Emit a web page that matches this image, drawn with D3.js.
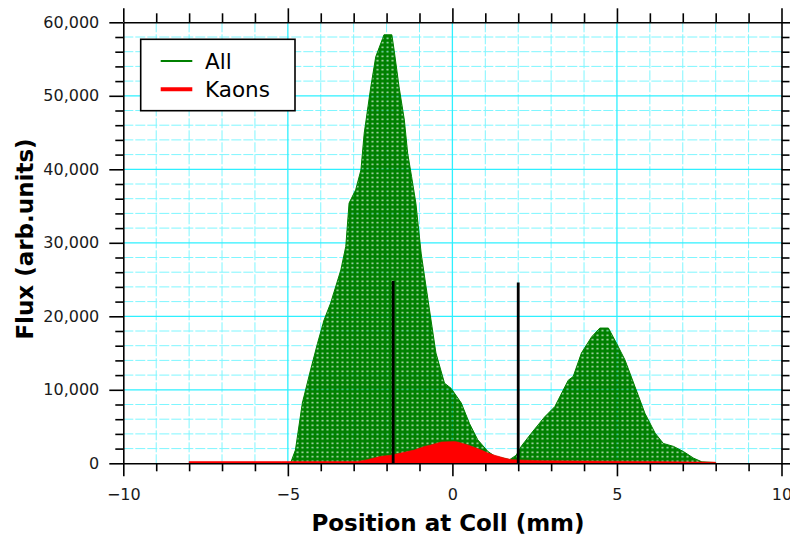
<!DOCTYPE html>
<html>
<head>
<meta charset="utf-8">
<script src="https://cdn.jsdelivr.net/npm/d3@7/dist/d3.min.js"></script>
<style>
  html, body { margin: 0; padding: 0; background: #fff; }
  svg { display: block; }
  text { font-family: "DejaVu Sans", sans-serif; }
</style>
</head>
<body>
<svg id="chart" width="790" height="538"></svg>
<script>
// Beam profile at the collimator: all particles vs kaons
const allPos = [-4.92, -4.77, -4.56, -4.31, -4.10, -3.90, -3.70, -3.39, -3.24, -3.14, -2.94, -2.78,
  -2.68, -2.48, -2.33, -2.12, -2.08, -1.84, -1.77, -1.62, -1.46, -1.36, -1.24, -1.11, -0.95, -0.80,
  -0.65, -0.50, -0.24, -0.04, 0.27, 0.52, 0.77, 1.08, 1.28, 1.74, 1.94, 2.09, 2.40, 2.80, 3.11,
  3.52, 3.67, 3.92, 4.23, 4.48, 4.74, 4.99, 5.24, 5.55, 5.85, 6.16, 6.41, 6.72, 7.02, 7.33, 7.58, 7.99];
const allFlux = [0, 1800, 8200, 12700, 16300, 19500, 21800, 26300, 29500, 35400, 37200, 39900,
  44900, 51200, 55300, 57800, 58300, 58300, 56200, 51200, 46700, 42200, 39000, 35400, 28600, 24000,
  19500, 15000, 10900, 10200, 8200, 5400, 3200, 1600, 1000, 500, 1100, 2300, 4100, 6300, 7700,
  11300, 11800, 15000, 17200, 18400, 18400, 16300, 14100, 10400, 6800, 4100, 2700, 2300, 1600, 700, 200, 100];

const kaonPos = [-8.0, -5.2, -2.88, -2.58, -2.17, -1.87, -1.36, -1.16, -0.85, -0.65, -0.34, 0.06,
  0.16, 0.47, 0.88, 1.08, 1.28, 1.59, 1.79, 2.0, 2.70, 4.0, 6.0, 8.0];
const kaonFlux = [250, 250, 250, 500, 950, 1100, 1600, 1800, 2300, 2500, 2900, 2950,
  2900, 2500, 1800, 1400, 1100, 700, 500, 450, 350, 300, 250, 150];

// Collimator edges
const edgePos = [-1.8, 2.0];
const edgeHeight = [24800, 24600];

const xDomain = [-10, 10];
const yDomain = [0, 60000];
const xMajor = [-10, -5, 0, 5, 10];
const yMajor = [0, 10000, 20000, 30000, 40000, 50000, 60000];

const legendNames = ["All", "Kaons"];
const legendColors = ["#008000", "#ff0000"];

const svg = d3.select("#chart");
const W = 790, H = 538;
const pLeft = 123.3, pRight = 781.5, pTop = 22.3, pBottom = 463.3;

svg.append("rect").attr("width", W).attr("height", H).attr("fill", "#fff");

const x = d3.scaleLinear().domain(xDomain).range([pLeft, pRight]);
const y = d3.scaleLinear().domain(yDomain).range([pBottom, pTop]);

const xMinor = d3.range(-10, 10.001, 1).filter(v => !xMajor.includes(v));
const yMinor = d3.range(0, 60001, 2000).filter(v => !yMajor.includes(v));

// Dotted fill for the "All" area
const defs = svg.append("defs");
const pat = defs.append("pattern").attr("id", "dots")
  .attr("patternUnits", "userSpaceOnUse").attr("width", 5).attr("height", 4.5);
pat.append("path").attr("d", "M0,0h5v4.5h-5z M1.5,1.5h2v1.5h-2z")
  .attr("fill", "#008000").attr("fill-rule", "evenodd");
pat.append("rect").attr("x", 1.5).attr("y", 1.5).attr("width", 2).attr("height", 1.5)
  .attr("fill", "#008000").attr("opacity", 0.25);

// Grid
const grid = svg.append("g");
grid.selectAll(".gxm").data(xMinor).join("line")
  .attr("x1", d => x(d)).attr("x2", d => x(d)).attr("y1", pTop).attr("y2", pBottom)
  .attr("stroke", "#7ff6ff").attr("stroke-width", 1).attr("stroke-dasharray", "10,2");
grid.selectAll(".gym").data(yMinor).join("line")
  .attr("x1", pLeft).attr("x2", pRight).attr("y1", d => y(d)).attr("y2", d => y(d))
  .attr("stroke", "#7ff6ff").attr("stroke-width", 1).attr("stroke-dasharray", "10,2");
grid.selectAll(".gxM").data(xMajor.slice(1, -1)).join("line")
  .attr("x1", d => x(d)).attr("x2", d => x(d)).attr("y1", pTop).attr("y2", pBottom)
  .attr("stroke", "#2ef0ff").attr("stroke-width", 1.3);
grid.selectAll(".gyM").data(yMajor.slice(1, -1)).join("line")
  .attr("x1", pLeft).attr("x2", pRight).attr("y1", d => y(d)).attr("y2", d => y(d))
  .attr("stroke", "#2ef0ff").attr("stroke-width", 1.3);

// Areas
const allData = allPos.map((p, i) => [p, allFlux[i]]);
const kaonData = kaonPos.map((p, i) => [p, kaonFlux[i]]);
const area = d3.area().x(d => x(d[0])).y0(y(0)).y1(d => y(d[1]));

svg.append("path").datum(allData).attr("d", area)
  .attr("fill", "url(#dots)").attr("stroke", "#008000").attr("stroke-width", 1);
svg.append("path").datum(kaonData).attr("d", area)
  .attr("fill", "#ff0000").attr("stroke", "#ff0000").attr("stroke-width", 0.6);

// Collimator edge markers
svg.selectAll(".edge").data(edgePos).join("line")
  .attr("x1", d => x(d)).attr("x2", d => x(d))
  .attr("y1", y(0)).attr("y2", (d, i) => y(edgeHeight[i]))
  .attr("stroke", "#000").attr("stroke-width", 2.8);

// Axes (ticks outward on all four sides)
const fmt = d3.format(",");
const tickFont = g => g.selectAll("text").attr("font-size", 16).attr("fill", "#1a1a1a")
  .attr("font-family", "DejaVu Sans, sans-serif");

function styleAxis(g) {
  g.select(".domain").attr("stroke", "#000").attr("stroke-width", 1.6);
  g.selectAll(".tick line").attr("stroke", "#000").attr("stroke-width", 1.6);
}
function minorStyle(g) {
  g.select(".domain").remove();
  g.selectAll("line").attr("stroke", "#000").attr("stroke-width", 1.6);
}

// bottom
const gB = svg.append("g").attr("transform", `translate(0,${pBottom})`)
  .call(d3.axisBottom(x).tickValues(xMajor).tickSize(13).tickPadding(12)
    .tickFormat(d => d < 0 ? "\u2212" + Math.abs(d) : String(d)).tickSizeOuter(0));
styleAxis(gB); tickFont(gB);
svg.append("g").attr("transform", `translate(0,${pBottom})`)
  .call(d3.axisBottom(x).tickValues(xMinor).tickSize(8).tickFormat("").tickSizeOuter(0))
  .call(minorStyle);

// top
const gT = svg.append("g").attr("transform", `translate(0,${pTop})`)
  .call(d3.axisTop(x).tickValues(xMajor).tickSize(14).tickFormat("").tickSizeOuter(0));
styleAxis(gT);
svg.append("g").attr("transform", `translate(0,${pTop})`)
  .call(d3.axisTop(x).tickValues(xMinor).tickSize(9).tickFormat("").tickSizeOuter(0))
  .call(minorStyle);

// left
const gL = svg.append("g").attr("transform", `translate(${pLeft},0)`)
  .call(d3.axisLeft(y).tickValues(yMajor).tickSize(14).tickPadding(10)
    .tickFormat(fmt).tickSizeOuter(0));
styleAxis(gL); tickFont(gL);
svg.append("g").attr("transform", `translate(${pLeft},0)`)
  .call(d3.axisLeft(y).tickValues(yMinor).tickSize(8).tickFormat("").tickSizeOuter(0))
  .call(minorStyle);

// right
const gR = svg.append("g").attr("transform", `translate(${pRight},0)`)
  .call(d3.axisRight(y).tickValues(yMajor).tickSize(14).tickFormat("").tickSizeOuter(0));
styleAxis(gR);
svg.append("g").attr("transform", `translate(${pRight},0)`)
  .call(d3.axisRight(y).tickValues(yMinor).tickSize(8).tickFormat("").tickSizeOuter(0))
  .call(minorStyle);

// Axis titles
svg.append("text").attr("x", 448).attr("y", 531)
  .attr("text-anchor", "middle").attr("font-size", 23).attr("font-weight", "bold")
  .attr("fill", "#000").text("Position at Coll (mm)");
svg.append("text").attr("transform", "translate(33,239) rotate(-90)")
  .attr("text-anchor", "middle").attr("font-size", 23).attr("font-weight", "bold")
  .attr("fill", "#000").text("Flux (arb.units)");

// Legend
const lg = svg.append("g");
lg.append("rect").attr("x", 140.7).attr("y", 39.3).attr("width", 154.3).attr("height", 71.4)
  .attr("fill", "#fff").attr("stroke", "#000").attr("stroke-width", 1.6);
legendNames.forEach((name, i) => {
  const cy = 61 + i * 28.3;
  lg.append("line").attr("x1", 160.7).attr("x2", 192.3).attr("y1", cy).attr("y2", cy)
    .attr("stroke", legendColors[i]).attr("stroke-width", i === 0 ? 2 : 4);
  lg.append("text").attr("x", 205).attr("y", cy + 8).attr("font-size", 21.5)
    .attr("fill", "#000").text(name);
});
</script>
</body>
</html>
